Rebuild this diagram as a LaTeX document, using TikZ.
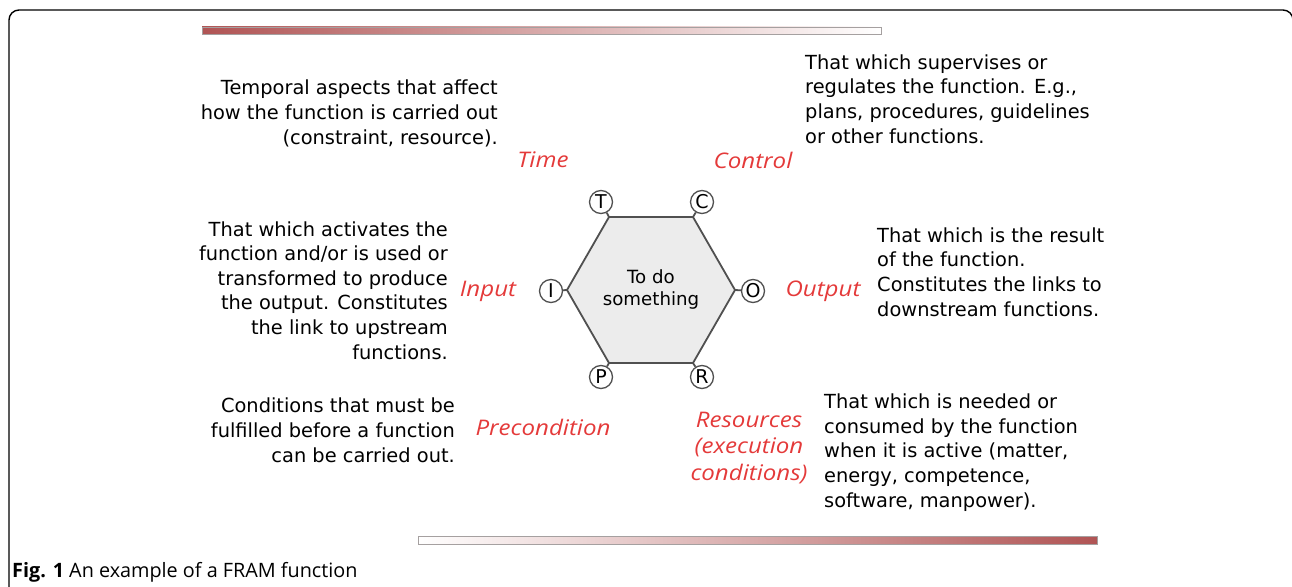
\documentclass[tikz,border=0pt]{standalone}
\usepackage{fontspec}
\setmainfont{DejaVu Sans}
\newfontfamily\handfont{Open Sans}[FakeStretch=1.12]
\newfontfamily\capfont{Open Sans}
\definecolor{handred}{RGB}{228,58,58}
\definecolor{barred}{RGB}{176,84,84}
\definecolor{hexfill}{RGB}{236,236,236}
\definecolor{hexline}{RGB}{80,80,80}
\definecolor{barline}{RGB}{165,160,160}
\tikzset{
  desc/.style={inner sep=0pt, font=\fontsize{19.4}{24.6}\selectfont},
  descl/.style={desc, anchor=base west, align=left},
  descr/.style={desc, anchor=base east, align=right},
  hand/.style={inner sep=0pt, text=handred, align=center,
    font=\handfont\itshape\fontsize{21.5}{26.5}\selectfont},
  port/.style={circle, draw=hexline, line width=1.3pt, fill=white,
    minimum size=23pt, inner sep=0pt, font=\fontsize{19}{19}\selectfont},
  hexedge/.style={draw=hexline, line width=1.8pt},
  bar/.style={draw=barline, line width=0.8pt}
}
\begin{document}
\begin{tikzpicture}[x=1pt,y=-1pt]
\useasboundingbox (0,0) rectangle (1292,586);
% outer frame
\draw[line width=1.4pt, rounded corners=10pt] (9,620) -- (9,10) -- (1293,10) -- (1293,620);
% gradient bars
\shade[bar, left color=barred, right color=white] (202,27) rectangle (881,34);
\shade[bar, left color=white, right color=barred] (418,536) rectangle (1097,544);

% hexagon corners
\coordinate (h0) at (735,290);
\coordinate (h60) at (693,217);
\coordinate (h120) at (609,217);
\coordinate (h180) at (567,290);
\coordinate (h240) at (609,363);
\coordinate (h300) at (693,363);
\draw[hexedge, fill=hexfill] (h0) -- (h60) -- (h120) -- (h180) -- (h240) -- (h300) -- cycle;
\node[align=center, inner sep=0pt, font=\fontsize{18.2}{22}\selectfont] (fn) at (651,289) {To do\\something};

% aspect ports
\node[port] (T) at (601,202) {T};
\node[port] (C) at (702,202) {C};
\node[port] (I) at (551,291) {I};
\node[port] (O) at (753,291) {O};
\node[port] (P) at (601,377) {P};
\node[port] (R) at (702,377) {R};
\draw[hexedge] (T) -- (h120);
\draw[hexedge] (C) -- (h60);
\draw[hexedge] (I) -- (h180);
\draw[hexedge] (O) -- (h0);
\draw[hexedge] (P) -- (h240);
\draw[hexedge] (R) -- (h300);

% aspect names
\node[hand] (time) at (543,160) {Time};
\node[hand] (control) at (753,160) {Control};
\node[hand] (input) at (488,291) {Input};
\node[hand] (output) at (823,291) {Output};
\node[hand] (precond) at (543,427) {Precondition};
\node[hand] (resources) at (749,448) {Resources\\(execution\\conditions)};

% explanations (anchored at the baseline of their last line)
\node[descr] (dtime) at (498,144) {Temporal aspects that affect\\how the function is carried out\\(constraint, resource).};
\node[descl] (dcontrol) at (805,143) {That which supervises or\\regulates the function. E.g.,\\plans, procedures, guidelines\\or other functions.};
\node[descr] (dinput) at (448,359) {That which activates the\\function and/or is used or\\transformed to produce\\the output. Constitutes\\the link to upstream\\functions.};
\node[descl] (doutput) at (877,316) {That which is the result\\of the function.\\Constitutes the links to\\downstream functions.};
\node[descr] (dprecond) at (455,462) {Conditions that must be\\fulfilled before a function\\can be carried out.};
\node[descl] (dres) at (824,507) {That which is needed or\\consumed by the function\\when it is active (matter,\\energy, competence,\\software, manpower).};

% caption
\node[anchor=base west, inner sep=0pt, font=\capfont\fontsize{19.8}{22}\selectfont] (cap) at (12,577) {\textbf{Fig. 1} An example of a FRAM function};
\end{tikzpicture}
\end{document}
